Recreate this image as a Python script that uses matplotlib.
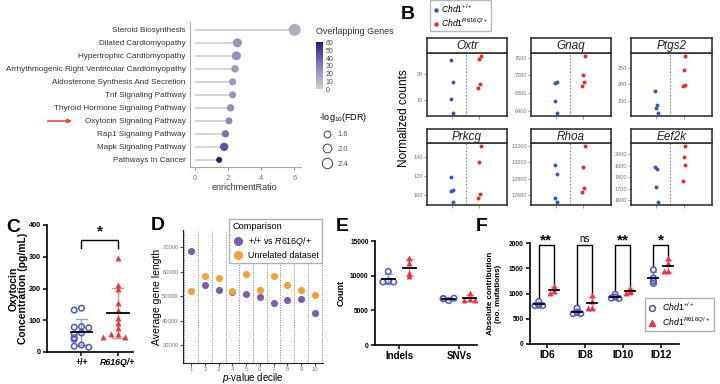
import numpy as np
import matplotlib
matplotlib.use('Agg')
import matplotlib.pyplot as plt
from matplotlib.colors import LinearSegmentedColormap, Normalize
from matplotlib.lines import Line2D
from matplotlib.cm import ScalarMappable

plt.rcParams['font.family'] = ['Liberation Sans', 'DejaVu Sans']
plt.rcParams['mathtext.fontset'] = 'custom'
plt.rcParams['mathtext.rm'] = 'Liberation Sans'
plt.rcParams['mathtext.it'] = 'Liberation Sans:italic'
plt.rcParams['mathtext.bf'] = 'Liberation Sans:bold'

# ---- data ----
# A: KEGG enrichment
pathways = ['Steroid Biosynthesis', 'Dilated Cardiomyopathy', 'Hypertrophic Cardiomyopathy',
            'Arrhythmogenic Right Ventricular Cardiomyopathy', 'Aldosterone Synthesis And Secretion',
            'Tnf Signaling Pathway', 'Thyroid Hormone Signaling Pathway', 'Oxytocin Signaling Pathway',
            'Rap1 Signaling Pathway', 'Mapk Signaling Pathway', 'Pathways In Cancer']
enrich = [6.02, 2.56, 2.5, 2.42, 2.27, 2.27, 2.15, 2.05, 1.84, 1.76, 1.46]
genes = [13, 24, 24, 21, 22, 23, 25, 28, 35, 44, 61]
fdr = [2.87, 2.05, 2.05, 1.73, 1.65, 1.65, 1.7, 1.63, 1.68, 1.9, 1.47]
fdr_breaks = [1.6, 2.0, 2.4]
gene_ticks = [0, 10, 20, 30, 40, 50, 60]

# B: normalized counts
b_genes = ['Oxtr', 'Gnaq', 'Ptgs2', 'Prkcg', 'Rhoa', 'Eef2k']
b_wt = [[25.6, 17.1, 10.5, 5.0], [7035, 7058, 6620, 6341], [180, 139, 128, 113],
        [119, 105, 104, 92], [12968, 12860, 12560, 12512], [1889, 1872, 1715, 1583]]
b_mut = [[27.2, 26.0, 16.2, 14.6], [7645, 7200, 7058, 6951], [286, 244, 199, 196],
         [152, 135, 101, 96], [13200, 12944, 12685, 12641], [2075, 1974, 1905, 1769]]
b_ticks = [[10, 20], [6400, 6800, 7200, 7600], [150, 200, 250], [100, 120, 140],
           [12600, 12800, 13000, 13200], [1600, 1700, 1800, 1900, 2000]]

# C: oxytocin
c_groups = ['+/+', 'R616Q/+']
c_wt = [138, 132, 80, 78, 76, 60, 56, 45, 40, 22, 18, 15]
c_mut = [297, 210, 198, 154, 132, 108, 90, 75, 56, 56, 47, 47]

# D: gene length by decile
deciles = list(range(1, 11))
d_comp = [68500, 54600, 52700, 51650, 50800, 49700, 47000, 48300, 48900, 42900]
d_unrel = [52200, 58200, 57400, 51900, 59000, 52500, 58200, 54400, 52500, 50300]

# E: counts
e_cats = ['Indels', 'SNVs']
e_wt = [[10600, 9250, 9100, 9100], [6400, 6650, 6700, 6750]]
e_mut = [[12500, 11800, 10400, 9900], [7450, 6700, 6500, 6450]]

# F: ID signatures
f_cats = ['ID6', 'ID8', 'ID10', 'ID12']
f_wt = [[840, 770, 760, 760], [710, 630, 600, 600], [985, 930, 910, 900], [1470, 1310, 1250, 1200]]
f_mut = [[1140, 1100, 1040, 1010], [970, 850, 720, 710], [1110, 1070, 1020, 1010], [1700, 1600, 1450, 1440]]
f_sig = ['**', 'ns', '**', '*']

BLUE = '#5058c4'
RED = '#f0303a'
BLUE_L = '#9ca0e0'
RED_L = '#f58c8c'

fig = plt.figure(figsize=(7.2, 3.84), dpi=100)


def ax_px(x0, y0, x1, y1):
    return fig.add_axes([x0 / 720, 1 - y1 / 384, (x1 - x0) / 720, (y1 - y0) / 384])


def letter(x, y, s):
    fig.text(x / 720, 1 - y / 384, s, fontsize=14, fontweight='bold', va='top', ha='left')


def swarm(vals, tol, w):
    offs, placed = [], []
    for v in vals:
        k = sum(1 for p in placed if abs(p - v) < tol)
        offs.append([0, -w, w, -2 * w, 2 * w][k % 5])
        placed.append(v)
    return np.array(offs)


def mean_sd(ax, x, vals, col, half=0.25, cap=0.12, lw=1.0):
    m = np.mean(vals)
    s = np.std(vals, ddof=1)
    ax.plot([x, x], [m - s, m + s], color=col, lw=lw, zorder=2)
    ax.plot([x - cap, x + cap], [m + s, m + s], color=col, lw=lw, zorder=2)
    ax.plot([x - cap, x + cap], [m - s, m - s], color=col, lw=lw, zorder=2)
    ax.plot([x - half, x + half], [m, m], color='k', lw=1.3, zorder=4)


def prism_axes(ax, ysize):
    for sp in ['top', 'right']:
        ax.spines[sp].set_visible(False)
    for sp in ['left', 'bottom']:
        ax.spines[sp].set_linewidth(1.2)
    ax.tick_params(width=1.1, length=3, pad=1.5)
    ax.tick_params(axis='y', labelsize=ysize)
    for t in ax.get_yticklabels():
        t.set_fontweight('bold')


def ylab(ax, text, x, **kw):
    ax.set_ylabel(text, va='center', ha='center', **kw)
    ax.yaxis.set_label_coords(x, 0.5)


def xlab(ax, text, y, x=0.5, **kw):
    ax.set_xlabel(text, va='center', ha='center', **kw)
    ax.xaxis.set_label_coords(x, y)


# ---- A ----
axA = ax_px(190, 22, 301, 167)
ypos = np.arange(len(pathways))[::-1]
cmap = LinearSegmentedColormap.from_list('g', ['#cfcfcf', '#8c7dbd', '#281a7c'])
norm = Normalize(0, 61)
sz = lambda f: 40 * (np.asarray(f) - 1.0)
axA.hlines(ypos, 0, enrich, color='#d6d6d6', lw=1.5, zorder=1)
axA.scatter(enrich, ypos, s=sz(fdr), c=genes, cmap=cmap, norm=norm, zorder=3, linewidths=0)
axA.set_yticks(ypos)
axA.set_yticklabels(pathways, fontsize=5.9, color='#333333')
axA.set_xticks([0, 2, 4, 6])
axA.set_xlim(-0.3, 6.4)
axA.set_ylim(-0.55, len(pathways) - 0.4)
axA.tick_params(axis='y', length=0, pad=3)
axA.tick_params(axis='x', length=2, color='#999999', labelsize=5.5, labelcolor='#777777')
for sp in ['top', 'right']:
    axA.spines[sp].set_visible(False)
for sp in ['left', 'bottom']:
    axA.spines[sp].set_color('#aaaaaa')
xlab(axA, 'enrichmentRatio', -0.138, x=0.49, fontsize=6.5, color='#333333')
axA.annotate('', xy=(75 / 720, 1 - 121 / 384), xytext=(45 / 720, 1 - 121 / 384),
             xycoords='figure fraction', textcoords='figure fraction',
             arrowprops=dict(arrowstyle='-|>', color='#f04848', lw=1.2, mutation_scale=6))

cax = ax_px(316, 42, 323, 89)
cb = fig.colorbar(ScalarMappable(norm=norm, cmap=cmap), cax=cax)
cb.outline.set_visible(False)
cb.set_ticks(gene_ticks)
cax.tick_params(labelsize=5, length=0, pad=2, labelcolor='#444444')
cax.set_ylim(0, 61)
fig.text(316 / 720, 1 - 32 / 384, 'Overlapping Genes', fontsize=6.5, color='#333333', va='center')

hs = [Line2D([], [], ls='', marker='o', mfc='none', mec='#444444', mew=0.7, ms=np.sqrt(sz(f)))
      for f in fdr_breaks]
fig.legend(hs, [f'{f:.1f}' for f in fdr_breaks], title='-log$_{10}$(FDR)', loc='upper left',
           bbox_to_anchor=(312 / 720, 1 - 104 / 384), frameon=False, fontsize=5.5,
           title_fontsize=6.5, labelspacing=0.95, handletextpad=0.4, alignment='left',
           labelcolor='#555555')

# ---- B ----
letter(401, 6, 'B')
cols_x = [(427, 507), (531, 611), (631, 712)]
rows_y = [(38, 53, 116), (129, 143, 205)]
jit = [-0.04, 0.03, -0.02, 0.05]
for i, g in enumerate(b_genes):
    x0, x1 = cols_x[i % 3]
    s0, b0, b1 = rows_y[i // 3]
    ax = ax_px(x0, b0, x1, b1)
    axs = ax_px(x0, s0, x1, b0)
    axs.set_xticks([])
    axs.set_yticks([])
    axs.text(0.5, 0.45, g, fontsize=8.5, style='italic', ha='center', va='center', color='#222222')
    for a in (ax, axs):
        for sp in a.spines.values():
            sp.set_color('#333333')
            sp.set_linewidth(1.2)
    ax.scatter(1 + np.array(jit), b_wt[i], s=8, color='#3558c8', zorder=3, linewidths=0)
    ax.scatter(2 + np.array(jit[::-1]), b_mut[i], s=8, color='#f02828', zorder=3, linewidths=0)
    ax.axvline(1.5, color='#777777', lw=0.6, ls=(0, (2, 2)))
    ax.set_xlim(0.1, 3.0)
    ax.margins(y=0.05)
    ax.set_xticks([1, 2])
    ax.set_xticklabels([])
    ax.set_yticks(b_ticks[i])
    ax.tick_params(labelsize=4, labelcolor='#777777', length=2, width=0.5, color='#777777', pad=1)
fig.text(404 / 720, 1 - 118 / 384, 'Normalized counts', rotation=90, fontsize=8.5,
         ha='center', va='center')
hb = [Line2D([], [], ls='', marker='o', ms=2.2, color='#3558c8'),
      Line2D([], [], ls='', marker='o', ms=2.2, color='#f02828')]
fig.legend(hb, [r'$\mathit{Chd1}^{+/+}$', r'$\mathit{Chd1}^{R616Q/+}$'], loc='upper left',
           bbox_to_anchor=(430 / 720, 1.0), fontsize=6.2, frameon=True, fancybox=False,
           edgecolor='#aaaaaa', handletextpad=0.2, labelspacing=0.2, borderpad=0.25,
           handlelength=0.8, borderaxespad=0)

# ---- C ----
letter(6, 219, 'C')
axC = ax_px(47, 225, 133, 352)
wt_x = 0 + swarm(c_wt, 12, 0.2)
mu_x = 1 + swarm(c_mut, 12, 0.2)
mean_sd(axC, 0, c_wt, BLUE_L, half=0.3, cap=0.15)
mean_sd(axC, 1, c_mut, RED_L, half=0.3, cap=0.15)
axC.scatter(wt_x, c_wt, s=16, facecolors='none', edgecolors=BLUE, linewidths=1.1, zorder=3)
axC.scatter(mu_x, c_mut, s=18, marker='^', color=RED, linewidths=0, zorder=3)
top = max(c_mut) + 55
axC.plot([0, 0, 1, 1], [top - 23, top, top, top - 23], color='k', lw=1.0)
axC.text(0.5, top + 5, '*', ha='center', va='bottom', fontsize=11, fontweight='bold')
axC.set_ylim(0, 400)
axC.set_xlim(-0.95, 1.42)
axC.set_yticks([0, 100, 200, 300, 400])
axC.set_xticks([0, 1])
axC.set_xticklabels(c_groups, fontweight='bold', fontsize=6.3)
axC.get_xticklabels()[1].set_style('italic')
prism_axes(axC, 5.2)
ylab(axC, 'Oxytocin\nConcentration (pg/mL)', -0.335, fontsize=7.5, fontweight='bold',
     linespacing=1.0)

# ---- D ----
letter(151, 217, 'D')
axD = ax_px(183, 230, 323, 363)
for k in range(len(deciles) + 1):
    axD.axvline(k + 0.5, color='#888888', lw=0.6, ls=(0, (1.5, 1.5)), zorder=0)
axD.scatter(deciles, d_comp, s=26, color='#7b5cb0', zorder=3, linewidths=0)
axD.scatter(deciles, d_unrel, s=26, color='#f5a030', zorder=3, linewidths=0)
axD.set_xlim(0.4, 10.6)
axD.set_ylim(22600, 77100)
axD.set_xticks(deciles)
axD.set_yticks([30000, 40000, 50000, 60000, 70000])
for sp in ['top', 'right']:
    axD.spines[sp].set_visible(False)
for sp in ['left', 'bottom']:
    axD.spines[sp].set_color('#222222')
axD.tick_params(labelsize=4.2, labelcolor='#777777', length=2, color='#555555', pad=1.2)
ylab(axD, 'Average gene length', -0.185, fontsize=7.5)
xlab(axD, '$p$-value decile', -0.112, fontsize=7.0)
hd = [Line2D([], [], ls='', marker='o', ms=5.5, color='#7b5cb0'),
      Line2D([], [], ls='', marker='o', ms=5.5, color='#f5a030')]
fig.legend(hd, [r'+/+ vs $\mathit{R616Q}$/+', 'Unrelated dataset'], title='Comparison',
           loc='upper right', bbox_to_anchor=(322 / 720, 1 - 219 / 384), fontsize=6.4,
           title_fontsize=6.6, alignment='left', fancybox=False, edgecolor='#aaaaaa',
           framealpha=0.9, handletextpad=0.4, labelspacing=0.4, borderpad=0.35,
           handlelength=1.4, borderaxespad=0)

# ---- E ----
letter(336, 218, 'E')
axE = ax_px(375, 241, 477, 345)
for i in range(len(e_cats)):
    xw = i - 0.18
    xm = i + 0.17
    mean_sd(axE, xw, e_wt[i], BLUE_L, half=0.11, cap=0.06)
    mean_sd(axE, xm, e_mut[i], RED_L, half=0.11, cap=0.06)
    axE.scatter(xw + swarm(e_wt[i], 300, 0.09), e_wt[i], s=16, facecolors='none',
                edgecolors=BLUE, linewidths=1.1, zorder=3)
    axE.scatter(xm + swarm(e_mut[i], 300, 0.09), e_mut[i], s=18, marker='^', color=RED,
                linewidths=0, zorder=3)
axE.set_ylim(0, 15000)
axE.set_xlim(-0.4, 1.29)
axE.set_yticks([0, 5000, 10000, 15000])
axE.set_xticks([0, 1])
axE.set_xticklabels(e_cats, fontweight='bold', fontsize=7)
prism_axes(axE, 4.8)
ylab(axE, 'Count', -0.336, fontsize=6.5, fontweight='bold')

# ---- F ----
letter(476, 218, 'F')
axF = ax_px(530, 243, 679, 344)
for i in range(len(f_cats)):
    xw = i - 0.21
    xm = i + 0.18
    mean_sd(axF, xw, f_wt[i], BLUE_L, half=0.13, cap=0.07)
    mean_sd(axF, xm, f_mut[i], RED_L, half=0.13, cap=0.07)
    axF.scatter(xw + swarm(f_wt[i], 40, 0.1), f_wt[i], s=16, facecolors='none',
                edgecolors=BLUE, linewidths=1.1, zorder=3)
    axF.scatter(xm + swarm(f_mut[i], 40, 0.1), f_mut[i], s=18, marker='^', color=RED,
                linewidths=0, zorder=3)
    yt = 1960
    axF.plot([xw, xw, xm, xm], [max(f_wt[i]) + 70, yt, yt, max(f_mut[i]) + 40], color='k', lw=1.0)
    if f_sig[i] == 'ns':
        axF.text(i - 0.01, yt + 20, 'ns', ha='center', va='bottom', fontsize=7)
    else:
        axF.text(i - 0.01, yt - 40, f_sig[i], ha='center', va='bottom', fontsize=11,
                 fontweight='bold')
axF.set_ylim(0, 2000)
axF.set_xlim(-0.44, 3.46)
axF.set_yticks([0, 500, 1000, 1500, 2000])
axF.set_xticks(range(len(f_cats)))
axF.set_xticklabels(f_cats, fontweight='bold', fontsize=7.3)
prism_axes(axF, 4.8)
ylab(axF, 'Absolute contribution\n(no. mutations)', -0.238, fontsize=5.8, fontweight='bold',
     linespacing=1.05)
hf = [Line2D([], [], ls='', marker='o', mfc='none', mec=BLUE, mew=1.1, ms=4.2),
      Line2D([], [], ls='', marker='^', color=RED, ms=4.2)]
fig.legend(hf, [r'$\mathit{Chd1}^{+/+}$', r'$\mathit{Chd1}^{R616Q/+}$'], loc='upper left',
           bbox_to_anchor=(645 / 720, 1 - 298 / 384), fontsize=6.3, fancybox=False,
           edgecolor='#999999', handletextpad=0.6, labelspacing=0.25, borderpad=0.35,
           handlelength=1.0, borderaxespad=0)

fig.savefig('out.png', dpi=100)
